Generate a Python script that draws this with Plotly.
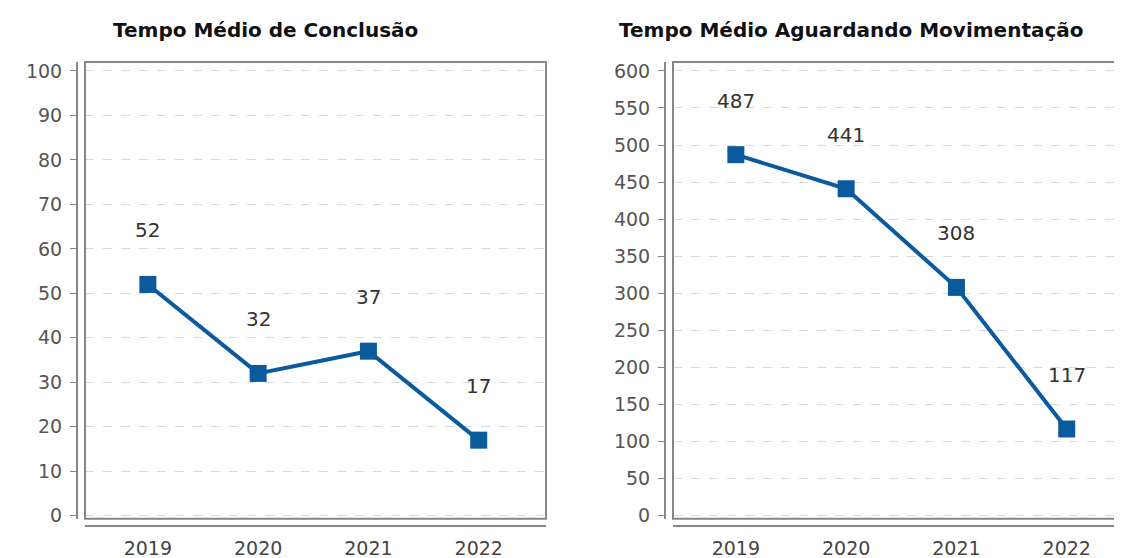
import plotly.graph_objects as go

years = ["2019", "2020", "2021", "2022"]
conclusao = [52, 32, 37, 17]
aguardando = [487, 441, 308, 117]
title_left = "Tempo Médio de Conclusão"
title_right = "Tempo Médio Aguardando Movimentação"
y_ticks_left = list(range(0, 101, 10))
y_ticks_right = list(range(0, 601, 50))

W, H = 1122, 558
BLUE = "#0b5a9e"
AXIS = "#878787"
GRID = "#d9d9d9"
FONT = "DejaVu Sans"


def px_x(p):
    return p / W


def px_y(p):
    return 1 - p / H


fig = go.Figure()

for vals, xa, ya in ((conclusao, "x", "y"), (aguardando, "x2", "y2")):
    fig.add_trace(go.Scatter(x=years, y=vals, mode="lines+markers",
                             line=dict(color=BLUE, width=4),
                             marker=dict(symbol="square", size=17, color=BLUE),
                             xaxis=xa, yaxis=ya, showlegend=False,
                             cliponaxis=False))
    # value labels above each point (category index on the category axis)
    for i, v in enumerate(vals):
        fig.add_annotation(x=i, y=v, xref=xa, yref=ya, text=str(v),
                           showarrow=False, yshift=54,
                           font=dict(family=FONT, size=20, color="#333333"))

frame_top, frame_bot = 53, 518
left_frame = (77, 538)
right_frame = (665, 1130)

xcommon = dict(type="category", showgrid=False, zeroline=False,
               showline=True, linecolor=AXIS, linewidth=2,
               ticks="outside", ticklen=6, tickcolor="rgba(0,0,0,0)",
               tickfont=dict(family=FONT, size=19, color="#444444"),
               anchor="free", position=px_y(525))
ycommon = dict(showgrid=True, gridcolor=GRID, griddash="dash", gridwidth=1,
               zeroline=False, showline=True, linecolor=AXIS, linewidth=2,
               ticks="outside", ticklen=6, tickcolor=AXIS, tickwidth=1,
               ticklabelstandoff=4,
               tickfont=dict(family=FONT, size=19, color="#555555"),
               anchor="free",
               domain=[px_y(frame_bot), px_y(frame_top)])

k = (left_frame[1] - left_frame[0]) / 4.18
fig.update_layout(
    width=W, height=H,
    margin=dict(l=0, r=0, t=0, b=0),
    paper_bgcolor="white", plot_bgcolor="white",
    xaxis=dict(domain=[px_x(left_frame[0]), px_x(left_frame[1])],
               range=[-0.57, 3.61], **xcommon),
    xaxis2=dict(domain=[px_x(right_frame[0]), 1.0],
                range=[-0.57, -0.57 + (W - right_frame[0]) / k], **xcommon),
    yaxis=dict(range=[-0.66, 101.99], tickvals=y_ticks_left,
               position=px_x(69), **ycommon),
    yaxis2=dict(range=[-4.0, 611.9], tickvals=y_ticks_right,
                position=px_x(657), **ycommon),
)

for x0, x1 in (left_frame, right_frame):
    fig.add_shape(type="rect", xref="paper", yref="paper",
                  x0=px_x(x0), x1=px_x(x1), y0=px_y(frame_bot), y1=px_y(frame_top),
                  line=dict(color=AXIS, width=2), layer="above")

fig.add_annotation(x=px_x(257), y=px_y(20), xref="paper", yref="paper",
                   text="<b>" + title_left + "</b>", showarrow=False,
                   xanchor="center", yanchor="middle",
                   font=dict(family=FONT, size=20, color="#111111"))
fig.add_annotation(x=px_x(843), y=px_y(20), xref="paper", yref="paper",
                   text="<b>" + title_right + "</b>", showarrow=False,
                   xanchor="center", yanchor="middle",
                   font=dict(family=FONT, size=20, color="#111111"))

fig.write_html("out.html")
